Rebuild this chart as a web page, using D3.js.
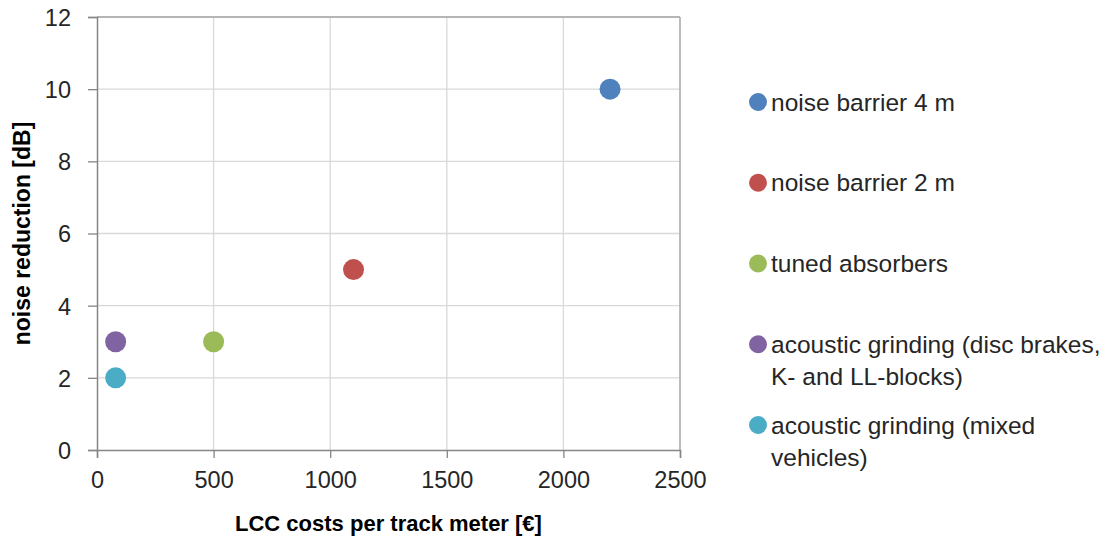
<!DOCTYPE html>
<html><head><meta charset="utf-8">
<script src="https://cdn.jsdelivr.net/npm/d3@7"></script>
<style>body{margin:0;background:#fff;} svg{display:block;font-family:"Liberation Sans",Arial,sans-serif;}</style>
</head><body>
<svg id="c" width="1109" height="542"></svg>
<script>
const seriesNames = ["noise barrier 4 m","noise barrier 2 m","tuned absorbers","acoustic grinding (disc brakes, K- and LL-blocks)","acoustic grinding (mixed vehicles)"];
const legendLines = [["noise barrier 4 m"],["noise barrier 2 m"],["tuned absorbers"],["acoustic grinding (disc brakes,","K- and LL-blocks)"],["acoustic grinding (mixed","vehicles)"]];
const costs = [2200,1100,500,80,80];
const reductions = [10,5,3,3,2];
const colors = ["#4f81bd","#c0504d","#9bbb59","#8064a2","#4bacc6"];
const xTicks = [0,500,1000,1500,2000,2500];
const yTicks = [0,2,4,6,8,10,12];

const svg = d3.select("#c");
const L=97, R=680, T=17, B=450;
const x = d3.scaleLinear().domain([0,2500]).range([L,R]);
const y = d3.scaleLinear().domain([0,12]).range([B,T]);

// gridlines
svg.append("g").selectAll("line").data(xTicks.slice(1)).join("line")
  .attr("x1",d=>x(d)).attr("x2",d=>x(d)).attr("y1",T).attr("y2",B)
  .attr("stroke","#d9d9d9").attr("stroke-width",1.3);
svg.append("g").selectAll("line").data(yTicks.slice(1)).join("line")
  .attr("x1",L).attr("x2",R).attr("y1",d=>y(d)).attr("y2",d=>y(d))
  .attr("stroke","#d9d9d9").attr("stroke-width",1.3);
// plot border top/right
svg.append("line").attr("x1",L).attr("x2",R).attr("y1",T).attr("y2",T).attr("stroke","#a6a6a6").attr("stroke-width",1.3);
svg.append("line").attr("x1",R).attr("x2",R).attr("y1",T).attr("y2",B).attr("stroke","#a6a6a6").attr("stroke-width",1.3);

// axes
const xAxis = svg.append("g").attr("transform",`translate(0,${B})`)
  .call(d3.axisBottom(x).tickValues(xTicks).tickSize(8).tickPadding(13).tickFormat(d3.format("d")));
const yAxis = svg.append("g").attr("transform",`translate(${L},0)`)
  .call(d3.axisLeft(y).tickValues(yTicks).tickSize(9).tickPadding(17).tickFormat(d3.format("d")));
[xAxis,yAxis].forEach(g=>{
  g.select(".domain").attr("stroke","#868686").attr("stroke-width",1.5);
  g.selectAll(".tick line").attr("stroke","#868686").attr("stroke-width",1.3);
  g.selectAll(".tick text").attr("fill","#262626").style("font-size","23.5px").style("font-family","Liberation Sans, Arial, sans-serif");
});
yAxis.selectAll(".tick text").attr("dy","0.36em");

// axis titles
svg.append("text").attr("x",(L+R)/2).attr("y",531).attr("text-anchor","middle")
  .style("font-size","22px").style("font-weight","bold").attr("fill","#000")
  .text("LCC costs per track meter [€]");
svg.append("text").attr("transform",`translate(30,${(T+B)/2}) rotate(-90)`).attr("text-anchor","middle")
  .style("font-size","23px").style("font-weight","bold").attr("fill","#000")
  .text("noise reduction [dB]");

// points
svg.append("g").selectAll("circle").data(seriesNames).join("circle")
  .attr("cx",(d,i)=>x(costs[i])).attr("cy",(d,i)=>y(reductions[i])).attr("r",10.5)
  .attr("fill",(d,i)=>colors[i]);

// legend
const rowY = d3.scalePoint().domain(seriesNames).range([102,425]);
const lg = svg.append("g").selectAll("g").data(seriesNames).join("g")
  .attr("transform",d=>`translate(758,${rowY(d)})`);
lg.append("circle").attr("r",9).attr("fill",(d,i)=>colors[i]);
lg.append("text").attr("x",13).attr("y",8.5).style("font-size","24.5px").attr("fill","#262626")
  .selectAll("tspan").data((d,i)=>legendLines[i]).join("tspan")
  .attr("x",13).attr("dy",(d,j)=>j===0?0:32).text(d=>d);
</script>
</body></html>
